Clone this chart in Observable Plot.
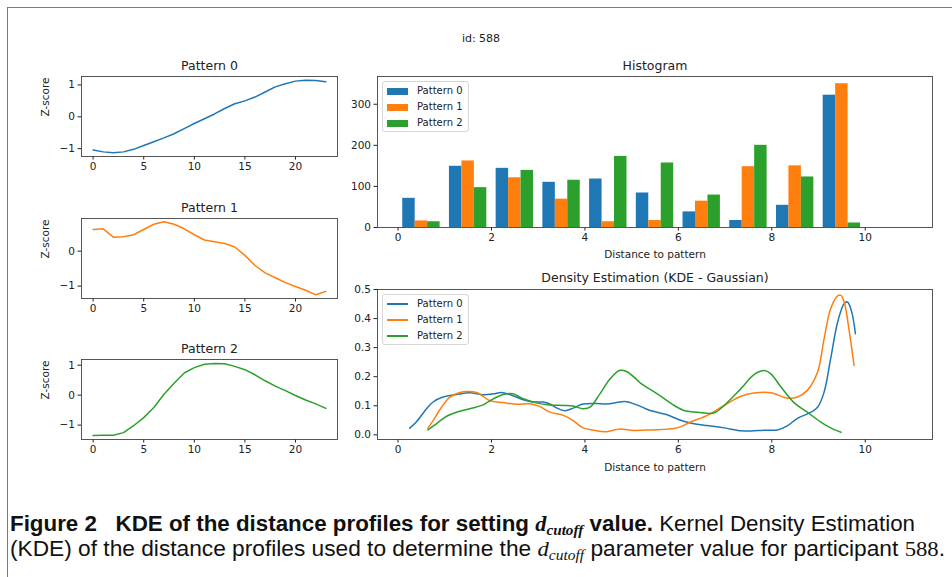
<!DOCTYPE html>
<html>
<head>
<meta charset="utf-8">
<script src="https://cdn.jsdelivr.net/npm/d3@7"></script>
<script src="https://cdn.jsdelivr.net/npm/@observablehq/plot@0.6"></script>
<style>
  html, body { margin: 0; padding: 0; background: #fff; }
  #fig { position: relative; width: 952px; height: 577px; overflow: hidden; background: #fff; }
  #border { position: absolute; left: 7px; top: 7px; right: -5px; bottom: -5px; border-left: 1.3px solid #5c7fab; border-top: 1.3px solid #5c7fab; }
  .panel { position: absolute; }
  .lbl { position: absolute; font-family: "DejaVu Sans", sans-serif; color: #222; white-space: nowrap; }
  .legend { position: absolute; background: rgba(255,255,255,0.85); border: 1px solid #d6d6d6; border-radius: 3px; box-sizing: border-box; }
  .legend .t { position: absolute; font-family: "DejaVu Sans", sans-serif; font-size: 10px; color: #222; line-height: 1; white-space: nowrap; }
  .legend .p { position: absolute; }
  .cap { position: absolute; left: 10px; font-family: "Liberation Sans", sans-serif; font-size: 22px; color: #111; white-space: nowrap; line-height: 1; transform-origin: 0 50%; }
  .m { font-family: "Liberation Serif", "DejaVu Serif", serif; font-style: italic; }
  .cap sub { font-family: "Liberation Serif", serif; font-style: italic; font-size: 15px; vertical-align: -4px; line-height: 0; }
</style>
</head>
<body>
<div id="fig">
  <div id="border"></div>
</div>
<script>
// ---------------- data ----------------
const seriesNames = ["Pattern 0", "Pattern 1", "Pattern 2"];
const seriesColors = ["#1f77b4", "#ff7f0e", "#2ca02c"];

const steps = [0,1,2,3,4,5,6,7,8,9,10,11,12,13,14,15,16,17,18,19,20,21,22,23];
const pattern0 = [-1.04,-1.10,-1.13,-1.10,-1.02,-0.90,-0.78,-0.66,-0.53,-0.37,-0.21,-0.06,0.09,0.26,0.41,0.50,0.62,0.78,0.94,1.04,1.12,1.15,1.14,1.10];
const pattern1 = [0.62,0.64,0.40,0.41,0.47,0.62,0.77,0.84,0.77,0.64,0.47,0.32,0.27,0.22,0.12,-0.12,-0.41,-0.62,-0.76,-0.90,-1.01,-1.12,-1.25,-1.15];
const pattern2 = [-1.35,-1.34,-1.34,-1.25,-1.02,-0.75,-0.41,0.03,0.40,0.74,0.92,1.03,1.06,1.05,0.96,0.85,0.68,0.48,0.30,0.15,-0.01,-0.16,-0.29,-0.44];
const lineTicksX = [0, 5, 10, 15, 20];

// histogram: bins of width 1 starting at these edges
const binStarts = [0,1,2,3,4,5,6,7,8,9,10];
const hist0 = [71,149,144,110,118,84,38,17,54,322,0];
const hist1 = [16,162,121,69,14,17,64,148,150,350,0];
const hist2 = [14,97,139,115,173,157,79,200,123,11,0];
const histTicksX = [0,2,4,6,8,10];
const histTicksY = [0,100,200,300];

// KDE curves
const kdeX0 = [0.25,0.39,0.61,0.75,0.96,1.25,1.54,1.82,2.04,2.21,2.39,2.68,2.89,3.11,3.25,3.39,3.57,3.75,3.96,4.25,4.46,4.75,4.89,5.11,5.30,5.48,5.76,6.00,6.26,6.62,6.98,7.34,7.55,7.84,8.12,8.34,8.55,8.84,8.98,9.12,9.26,9.41,9.55,9.62,9.71,9.79];
const kdeY0 = [0.023,0.044,0.090,0.113,0.130,0.139,0.145,0.138,0.141,0.146,0.139,0.121,0.113,0.113,0.106,0.093,0.083,0.092,0.106,0.108,0.106,0.113,0.114,0.103,0.090,0.080,0.069,0.053,0.041,0.032,0.024,0.014,0.013,0.016,0.017,0.032,0.057,0.078,0.095,0.147,0.262,0.388,0.452,0.457,0.423,0.348];
const kdeX1 = [0.64,0.75,0.93,1.11,1.32,1.54,1.71,1.96,2.25,2.54,2.82,3.04,3.25,3.54,3.75,3.96,4.18,4.46,4.75,5.04,5.39,5.98,6.26,6.62,6.98,7.34,7.62,7.98,8.34,8.55,8.76,8.98,9.12,9.26,9.41,9.48,9.55,9.66,9.76];
const kdeY1 = [0.023,0.049,0.095,0.130,0.146,0.149,0.144,0.118,0.111,0.105,0.107,0.097,0.078,0.067,0.049,0.024,0.016,0.011,0.020,0.015,0.017,0.024,0.044,0.067,0.101,0.133,0.144,0.145,0.126,0.130,0.153,0.216,0.331,0.434,0.478,0.480,0.457,0.354,0.239];
const kdeX2 = [0.64,0.82,1.04,1.25,1.54,1.82,2.04,2.25,2.46,2.68,2.96,3.25,3.54,3.75,3.96,4.11,4.32,4.54,4.75,4.89,5.11,5.19,5.55,5.91,6.12,6.41,6.76,6.98,7.34,7.62,7.84,7.98,8.19,8.48,8.76,9.05,9.26,9.48];
const kdeY2 = [0.017,0.038,0.064,0.078,0.090,0.103,0.124,0.139,0.141,0.124,0.110,0.103,0.101,0.099,0.090,0.095,0.141,0.193,0.222,0.218,0.190,0.178,0.141,0.101,0.084,0.078,0.075,0.101,0.159,0.207,0.221,0.210,0.166,0.110,0.078,0.044,0.024,0.009];
const kdeTicksY = [0,0.1,0.2,0.3,0.4,0.5];

// ---------------- helpers ----------------
const fig = document.getElementById("fig");
const minus = d => (d < 0 ? "\u2212" + Math.abs(d) : String(d));
const baseStyle = {fontFamily: "DejaVu Sans, sans-serif", fontSize: "10.5px", color: "#222", background: "transparent", overflow: "visible"};

function place(node, left, top) {
  const wrap = document.createElement("div");
  wrap.className = "panel";
  wrap.style.left = left + "px";
  wrap.style.top = top + "px";
  wrap.appendChild(node);
  fig.appendChild(wrap);
}
function label(text, x, y, size) {
  const d = document.createElement("div");
  d.className = "lbl";
  d.textContent = text;
  d.style.fontSize = size + "px";
  d.style.left = x + "px";
  d.style.top = y + "px";
  d.style.transform = "translate(-50%,-50%)";
  fig.appendChild(d);
}

// ---------------- left line panels ----------------
function linePanel(vals, color, title, yDomain, yTicks, top) {
  const data = steps.map((s, i) => ({s, v: vals[i]}));
  const chart = Plot.plot({
    width: 320, height: 130,
    marginLeft: 51, marginRight: 13, marginTop: 21, marginBottom: 29,
    style: baseStyle,
    x: {domain: [-1.15, 24.15], ticks: lineTicksX, tickSize: 3.5, tickPadding: 3, label: null},
    y: {domain: yDomain, ticks: yTicks, tickSize: 3.5, tickPadding: 3, label: null, tickFormat: minus},
    marks: [
      Plot.line(data, {x: "s", y: "v", stroke: color, strokeWidth: 1.5}),
      Plot.frame({stroke: "#444", strokeWidth: 0.9}),
      Plot.text([title], {text: d => d, frameAnchor: "top", lineAnchor: "middle", dy: -11, fontSize: 12.5, fill: "#222"}),
      Plot.text(["Z-score"], {text: d => d, frameAnchor: "left", rotate: -90, dx: -36, fontSize: 10.5, fill: "#222"})
    ]
  });
  place(chart, 30, top);
}
linePanel(pattern0, seriesColors[0], "Pattern 0", [-1.245, 1.265], [-1, 0, 1], 55);
linePanel(pattern1, seriesColors[1], "Pattern 1", [-1.355, 0.935], [-1, 0], 196.5);
linePanel(pattern2, seriesColors[2], "Pattern 2", [-1.48, 1.19], [-1, 0, 1], 338);

// ---------------- histogram ----------------
const hists = [hist0, hist1, hist2];
const barW = 0.8 / 3;
const histRows = [];
binStarts.forEach((b, i) => {
  hists.forEach((h, k) => {
    const x1 = b + 0.1 + k * barW;
    histRows.push({x1, x2: x1 + barW, count: h[i], pattern: seriesNames[k]});
  });
});
const histChart = Plot.plot({
  width: 612, height: 215,
  marginLeft: 37, marginRight: 20, marginTop: 21, marginBottom: 43,
  style: baseStyle,
  x: {domain: [-0.44, 11.44], ticks: histTicksX, tickSize: 3.5, tickPadding: 3, label: null},
  y: {domain: [0, 367.5], ticks: histTicksY, tickSize: 3.5, tickPadding: 3, label: null},
  color: {domain: seriesNames, range: seriesColors},
  marks: [
    Plot.rectY(histRows, {x1: "x1", x2: "x2", y: "count", fill: "pattern"}),
    Plot.frame({stroke: "#444", strokeWidth: 0.9}),
    Plot.text(["Histogram"], {text: d => d, frameAnchor: "top", lineAnchor: "middle", dy: -11, fontSize: 12.5, fill: "#222"}),
    Plot.text(["Distance to pattern"], {text: d => d, frameAnchor: "bottom", lineAnchor: "middle", dy: 27, fontSize: 10.5, fill: "#222"})
  ]
});
place(histChart, 340, 55);

// ---------------- KDE ----------------
const kdeRows = [];
[[kdeX0, kdeY0], [kdeX1, kdeY1], [kdeX2, kdeY2]].forEach(([xs, ys], k) => {
  xs.forEach((x, i) => kdeRows.push({x, y: ys[i], pattern: seriesNames[k]}));
});
const kdeChart = Plot.plot({
  width: 612, height: 215,
  marginLeft: 37, marginRight: 20, marginTop: 24, marginBottom: 41,
  style: baseStyle,
  x: {domain: [-0.44, 11.44], ticks: histTicksX, tickSize: 3.5, tickPadding: 3, label: null},
  y: {domain: [-0.016, 0.5], ticks: kdeTicksY, tickSize: 3.5, tickPadding: 3, label: null, tickFormat: d3.format(".1f")},
  color: {domain: seriesNames, range: seriesColors},
  marks: [
    Plot.line(kdeRows, {x: "x", y: "y", z: "pattern", stroke: "pattern", strokeWidth: 1.5, curve: "catmull-rom"}),
    Plot.frame({stroke: "#444", strokeWidth: 0.9}),
    Plot.text(["Density Estimation (KDE - Gaussian)"], {text: d => d, frameAnchor: "top", lineAnchor: "middle", dy: -11.5, fontSize: 12.5, fill: "#222"}),
    Plot.text(["Distance to pattern"], {text: d => d, frameAnchor: "bottom", lineAnchor: "middle", dy: 28, fontSize: 10.5, fill: "#222"})
  ]
});
place(kdeChart, 340, 265);

// ---------------- legends ----------------
function legend(left, top, kind) {
  const box = document.createElement("div");
  box.className = "legend";
  box.style.left = left + "px";
  box.style.top = top + "px";
  box.style.width = "87px";
  box.style.height = "51px";
  seriesNames.forEach((name, k) => {
    const cy = Math.round(9 + k * 16.2);
    const p = document.createElement("div");
    p.className = "p";
    p.style.left = "4px";
    p.style.width = "21px";
    p.style.background = seriesColors[k];
    if (kind === "patch") { p.style.top = (cy - 3.5) + "px"; p.style.height = "7px"; }
    else { p.style.top = (cy - 1) + "px"; p.style.height = "2px"; }
    box.appendChild(p);
    const t = document.createElement("div");
    t.className = "t";
    t.textContent = name;
    t.style.left = "34px";
    t.style.top = (cy - 5.5) + "px";
    box.appendChild(t);
  });
  fig.appendChild(box);
}
legend(382, 81, "patch");
legend(382, 294, "line");

// ---------------- texts ----------------
label("id: 588", 481, 38, 11);

function caption(html, top, targetWidth) {
  const c = document.createElement("div");
  c.className = "cap";
  c.style.top = top + "px";
  c.innerHTML = html;
  fig.appendChild(c);
  const w = c.getBoundingClientRect().width;
  if (w > 0) c.style.transform = "scaleX(" + (targetWidth / w) + ")";
}
caption('<b>Figure 2&nbsp;&nbsp; KDE of the distance profiles for setting <span class="m">d</span><sub>cutoff</sub> value.</b> Kernel Density Estimation', 513, 905);
caption('(KDE) of the distance profiles used to determine the <span class="m">d</span><sub>cutoff</sub> parameter value for participant <span style="font-family:\'Liberation Serif\',serif">588</span>.', 538, 935);
</script>
</body>
</html>
